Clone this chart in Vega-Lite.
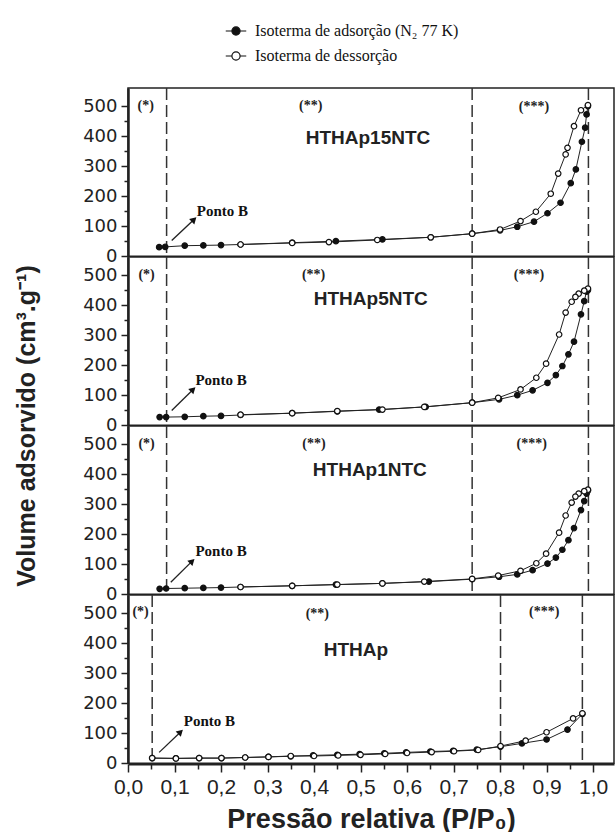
{
  "$schema": "https://vega.github.io/schema/vega-lite/v6.json",
  "padding": {"left": 14, "top": 20, "right": 0, "bottom": 0},
  "background": "white",
  "bounds": "flush",
  "data": {"values": [
    {"painel":"HTHAp15NTC","camada":"curva","isoterma":"adsorção","p":0.067,"v":30},
    {"painel":"HTHAp15NTC","camada":"curva","isoterma":"adsorção","p":0.08,"v":31},
    {"painel":"HTHAp15NTC","camada":"curva","isoterma":"adsorção","p":0.122,"v":35},
    {"painel":"HTHAp15NTC","camada":"curva","isoterma":"adsorção","p":0.162,"v":36},
    {"painel":"HTHAp15NTC","camada":"curva","isoterma":"adsorção","p":0.2,"v":37},
    {"painel":"HTHAp15NTC","camada":"curva","isoterma":"adsorção","p":0.242,"v":39},
    {"painel":"HTHAp15NTC","camada":"curva","isoterma":"adsorção","p":0.353,"v":45},
    {"painel":"HTHAp15NTC","camada":"curva","isoterma":"adsorção","p":0.447,"v":50},
    {"painel":"HTHAp15NTC","camada":"curva","isoterma":"adsorção","p":0.547,"v":56},
    {"painel":"HTHAp15NTC","camada":"curva","isoterma":"adsorção","p":0.651,"v":63},
    {"painel":"HTHAp15NTC","camada":"curva","isoterma":"adsorção","p":0.74,"v":75},
    {"painel":"HTHAp15NTC","camada":"curva","isoterma":"adsorção","p":0.8,"v":86},
    {"painel":"HTHAp15NTC","camada":"curva","isoterma":"adsorção","p":0.837,"v":98},
    {"painel":"HTHAp15NTC","camada":"curva","isoterma":"adsorção","p":0.873,"v":115},
    {"painel":"HTHAp15NTC","camada":"curva","isoterma":"adsorção","p":0.902,"v":143},
    {"painel":"HTHAp15NTC","camada":"curva","isoterma":"adsorção","p":0.93,"v":178},
    {"painel":"HTHAp15NTC","camada":"curva","isoterma":"adsorção","p":0.952,"v":243},
    {"painel":"HTHAp15NTC","camada":"curva","isoterma":"adsorção","p":0.963,"v":289},
    {"painel":"HTHAp15NTC","camada":"curva","isoterma":"adsorção","p":0.976,"v":381},
    {"painel":"HTHAp15NTC","camada":"curva","isoterma":"adsorção","p":0.983,"v":428},
    {"painel":"HTHAp15NTC","camada":"curva","isoterma":"adsorção","p":0.986,"v":472},
    {"painel":"HTHAp15NTC","camada":"curva","isoterma":"adsorção","p":0.989,"v":500},
    {"painel":"HTHAp15NTC","camada":"curva","isoterma":"dessorção","p":0.989,"v":503},
    {"painel":"HTHAp15NTC","camada":"curva","isoterma":"dessorção","p":0.974,"v":486},
    {"painel":"HTHAp15NTC","camada":"curva","isoterma":"dessorção","p":0.959,"v":433},
    {"painel":"HTHAp15NTC","camada":"curva","isoterma":"dessorção","p":0.945,"v":361},
    {"painel":"HTHAp15NTC","camada":"curva","isoterma":"dessorção","p":0.941,"v":339},
    {"painel":"HTHAp15NTC","camada":"curva","isoterma":"dessorção","p":0.925,"v":275},
    {"painel":"HTHAp15NTC","camada":"curva","isoterma":"dessorção","p":0.909,"v":208},
    {"painel":"HTHAp15NTC","camada":"curva","isoterma":"dessorção","p":0.877,"v":148},
    {"painel":"HTHAp15NTC","camada":"curva","isoterma":"dessorção","p":0.844,"v":117},
    {"painel":"HTHAp15NTC","camada":"curva","isoterma":"dessorção","p":0.8,"v":89},
    {"painel":"HTHAp15NTC","camada":"curva","isoterma":"dessorção","p":0.74,"v":75},
    {"painel":"HTHAp15NTC","camada":"curva","isoterma":"dessorção","p":0.651,"v":63},
    {"painel":"HTHAp15NTC","camada":"curva","isoterma":"dessorção","p":0.536,"v":54},
    {"painel":"HTHAp15NTC","camada":"curva","isoterma":"dessorção","p":0.432,"v":47},
    {"painel":"HTHAp15NTC","camada":"curva","isoterma":"dessorção","p":0.353,"v":44},
    {"painel":"HTHAp15NTC","camada":"curva","isoterma":"dessorção","p":0.242,"v":39},

    {"painel":"HTHAp5NTC","camada":"curva","isoterma":"adsorção","p":0.068,"v":27},
    {"painel":"HTHAp5NTC","camada":"curva","isoterma":"adsorção","p":0.082,"v":27},
    {"painel":"HTHAp5NTC","camada":"curva","isoterma":"adsorção","p":0.122,"v":28},
    {"painel":"HTHAp5NTC","camada":"curva","isoterma":"adsorção","p":0.162,"v":30},
    {"painel":"HTHAp5NTC","camada":"curva","isoterma":"adsorção","p":0.2,"v":31},
    {"painel":"HTHAp5NTC","camada":"curva","isoterma":"adsorção","p":0.242,"v":34},
    {"painel":"HTHAp5NTC","camada":"curva","isoterma":"adsorção","p":0.353,"v":40},
    {"painel":"HTHAp5NTC","camada":"curva","isoterma":"adsorção","p":0.45,"v":46},
    {"painel":"HTHAp5NTC","camada":"curva","isoterma":"adsorção","p":0.54,"v":52},
    {"painel":"HTHAp5NTC","camada":"curva","isoterma":"adsorção","p":0.64,"v":61},
    {"painel":"HTHAp5NTC","camada":"curva","isoterma":"adsorção","p":0.74,"v":75},
    {"painel":"HTHAp5NTC","camada":"curva","isoterma":"adsorção","p":0.798,"v":86},
    {"painel":"HTHAp5NTC","camada":"curva","isoterma":"adsorção","p":0.837,"v":100},
    {"painel":"HTHAp5NTC","camada":"curva","isoterma":"adsorção","p":0.87,"v":116},
    {"painel":"HTHAp5NTC","camada":"curva","isoterma":"adsorção","p":0.902,"v":141},
    {"painel":"HTHAp5NTC","camada":"curva","isoterma":"adsorção","p":0.92,"v":167},
    {"painel":"HTHAp5NTC","camada":"curva","isoterma":"adsorção","p":0.934,"v":197},
    {"painel":"HTHAp5NTC","camada":"curva","isoterma":"adsorção","p":0.947,"v":236},
    {"painel":"HTHAp5NTC","camada":"curva","isoterma":"adsorção","p":0.959,"v":278},
    {"painel":"HTHAp5NTC","camada":"curva","isoterma":"adsorção","p":0.974,"v":369},
    {"painel":"HTHAp5NTC","camada":"curva","isoterma":"adsorção","p":0.981,"v":413},
    {"painel":"HTHAp5NTC","camada":"curva","isoterma":"adsorção","p":0.986,"v":445},
    {"painel":"HTHAp5NTC","camada":"curva","isoterma":"adsorção","p":0.989,"v":450},
    {"painel":"HTHAp5NTC","camada":"curva","isoterma":"dessorção","p":0.989,"v":455},
    {"painel":"HTHAp5NTC","camada":"curva","isoterma":"dessorção","p":0.981,"v":448},
    {"painel":"HTHAp5NTC","camada":"curva","isoterma":"dessorção","p":0.969,"v":438},
    {"painel":"HTHAp5NTC","camada":"curva","isoterma":"dessorção","p":0.962,"v":427},
    {"painel":"HTHAp5NTC","camada":"curva","isoterma":"dessorção","p":0.954,"v":411},
    {"painel":"HTHAp5NTC","camada":"curva","isoterma":"dessorção","p":0.941,"v":375},
    {"painel":"HTHAp5NTC","camada":"curva","isoterma":"dessorção","p":0.927,"v":302},
    {"painel":"HTHAp5NTC","camada":"curva","isoterma":"dessorção","p":0.899,"v":205},
    {"painel":"HTHAp5NTC","camada":"curva","isoterma":"dessorção","p":0.878,"v":158},
    {"painel":"HTHAp5NTC","camada":"curva","isoterma":"dessorção","p":0.844,"v":119},
    {"painel":"HTHAp5NTC","camada":"curva","isoterma":"dessorção","p":0.796,"v":91},
    {"painel":"HTHAp5NTC","camada":"curva","isoterma":"dessorção","p":0.74,"v":75},
    {"painel":"HTHAp5NTC","camada":"curva","isoterma":"dessorção","p":0.637,"v":61},
    {"painel":"HTHAp5NTC","camada":"curva","isoterma":"dessorção","p":0.547,"v":52},
    {"painel":"HTHAp5NTC","camada":"curva","isoterma":"dessorção","p":0.45,"v":47},
    {"painel":"HTHAp5NTC","camada":"curva","isoterma":"dessorção","p":0.353,"v":40},
    {"painel":"HTHAp5NTC","camada":"curva","isoterma":"dessorção","p":0.242,"v":35},

    {"painel":"HTHAp1NTC","camada":"curva","isoterma":"adsorção","p":0.068,"v":18},
    {"painel":"HTHAp1NTC","camada":"curva","isoterma":"adsorção","p":0.082,"v":19},
    {"painel":"HTHAp1NTC","camada":"curva","isoterma":"adsorção","p":0.122,"v":20},
    {"painel":"HTHAp1NTC","camada":"curva","isoterma":"adsorção","p":0.162,"v":21},
    {"painel":"HTHAp1NTC","camada":"curva","isoterma":"adsorção","p":0.2,"v":22},
    {"painel":"HTHAp1NTC","camada":"curva","isoterma":"adsorção","p":0.242,"v":24},
    {"painel":"HTHAp1NTC","camada":"curva","isoterma":"adsorção","p":0.353,"v":28},
    {"painel":"HTHAp1NTC","camada":"curva","isoterma":"adsorção","p":0.447,"v":32},
    {"painel":"HTHAp1NTC","camada":"curva","isoterma":"adsorção","p":0.547,"v":36},
    {"painel":"HTHAp1NTC","camada":"curva","isoterma":"adsorção","p":0.647,"v":42},
    {"painel":"HTHAp1NTC","camada":"curva","isoterma":"adsorção","p":0.74,"v":50},
    {"painel":"HTHAp1NTC","camada":"curva","isoterma":"adsorção","p":0.798,"v":58},
    {"painel":"HTHAp1NTC","camada":"curva","isoterma":"adsorção","p":0.837,"v":66},
    {"painel":"HTHAp1NTC","camada":"curva","isoterma":"adsorção","p":0.87,"v":80},
    {"painel":"HTHAp1NTC","camada":"curva","isoterma":"adsorção","p":0.902,"v":102},
    {"painel":"HTHAp1NTC","camada":"curva","isoterma":"adsorção","p":0.92,"v":122},
    {"painel":"HTHAp1NTC","camada":"curva","isoterma":"adsorção","p":0.934,"v":148},
    {"painel":"HTHAp1NTC","camada":"curva","isoterma":"adsorção","p":0.947,"v":180},
    {"painel":"HTHAp1NTC","camada":"curva","isoterma":"adsorção","p":0.959,"v":220},
    {"painel":"HTHAp1NTC","camada":"curva","isoterma":"adsorção","p":0.974,"v":280},
    {"painel":"HTHAp1NTC","camada":"curva","isoterma":"adsorção","p":0.981,"v":310},
    {"painel":"HTHAp1NTC","camada":"curva","isoterma":"adsorção","p":0.986,"v":335},
    {"painel":"HTHAp1NTC","camada":"curva","isoterma":"adsorção","p":0.989,"v":345},
    {"painel":"HTHAp1NTC","camada":"curva","isoterma":"dessorção","p":0.989,"v":348},
    {"painel":"HTHAp1NTC","camada":"curva","isoterma":"dessorção","p":0.981,"v":343},
    {"painel":"HTHAp1NTC","camada":"curva","isoterma":"dessorção","p":0.969,"v":335},
    {"painel":"HTHAp1NTC","camada":"curva","isoterma":"dessorção","p":0.962,"v":325},
    {"painel":"HTHAp1NTC","camada":"curva","isoterma":"dessorção","p":0.954,"v":305},
    {"painel":"HTHAp1NTC","camada":"curva","isoterma":"dessorção","p":0.941,"v":262},
    {"painel":"HTHAp1NTC","camada":"curva","isoterma":"dessorção","p":0.927,"v":205},
    {"painel":"HTHAp1NTC","camada":"curva","isoterma":"dessorção","p":0.899,"v":135},
    {"painel":"HTHAp1NTC","camada":"curva","isoterma":"dessorção","p":0.878,"v":103},
    {"painel":"HTHAp1NTC","camada":"curva","isoterma":"dessorção","p":0.844,"v":78},
    {"painel":"HTHAp1NTC","camada":"curva","isoterma":"dessorção","p":0.796,"v":62},
    {"painel":"HTHAp1NTC","camada":"curva","isoterma":"dessorção","p":0.74,"v":51},
    {"painel":"HTHAp1NTC","camada":"curva","isoterma":"dessorção","p":0.637,"v":42},
    {"painel":"HTHAp1NTC","camada":"curva","isoterma":"dessorção","p":0.547,"v":36},
    {"painel":"HTHAp1NTC","camada":"curva","isoterma":"dessorção","p":0.45,"v":32},
    {"painel":"HTHAp1NTC","camada":"curva","isoterma":"dessorção","p":0.353,"v":28},
    {"painel":"HTHAp1NTC","camada":"curva","isoterma":"dessorção","p":0.242,"v":24},

    {"painel":"HTHAp","camada":"curva","isoterma":"adsorção","p":0.052,"v":17},
    {"painel":"HTHAp","camada":"curva","isoterma":"adsorção","p":0.103,"v":16},
    {"painel":"HTHAp","camada":"curva","isoterma":"adsorção","p":0.153,"v":17},
    {"painel":"HTHAp","camada":"curva","isoterma":"adsorção","p":0.201,"v":17},
    {"painel":"HTHAp","camada":"curva","isoterma":"adsorção","p":0.252,"v":19},
    {"painel":"HTHAp","camada":"curva","isoterma":"adsorção","p":0.302,"v":21},
    {"painel":"HTHAp","camada":"curva","isoterma":"adsorção","p":0.35,"v":23},
    {"painel":"HTHAp","camada":"curva","isoterma":"adsorção","p":0.398,"v":26},
    {"painel":"HTHAp","camada":"curva","isoterma":"adsorção","p":0.45,"v":28},
    {"painel":"HTHAp","camada":"curva","isoterma":"adsorção","p":0.498,"v":30},
    {"painel":"HTHAp","camada":"curva","isoterma":"adsorção","p":0.551,"v":33},
    {"painel":"HTHAp","camada":"curva","isoterma":"adsorção","p":0.598,"v":36},
    {"painel":"HTHAp","camada":"curva","isoterma":"adsorção","p":0.65,"v":39},
    {"painel":"HTHAp","camada":"curva","isoterma":"adsorção","p":0.699,"v":41},
    {"painel":"HTHAp","camada":"curva","isoterma":"adsorção","p":0.75,"v":45},
    {"painel":"HTHAp","camada":"curva","isoterma":"adsorção","p":0.801,"v":55},
    {"painel":"HTHAp","camada":"curva","isoterma":"adsorção","p":0.847,"v":66},
    {"painel":"HTHAp","camada":"curva","isoterma":"adsorção","p":0.9,"v":79},
    {"painel":"HTHAp","camada":"curva","isoterma":"adsorção","p":0.945,"v":112},
    {"painel":"HTHAp","camada":"curva","isoterma":"adsorção","p":0.977,"v":164},
    {"painel":"HTHAp","camada":"curva","isoterma":"dessorção","p":0.977,"v":166},
    {"painel":"HTHAp","camada":"curva","isoterma":"dessorção","p":0.957,"v":149},
    {"painel":"HTHAp","camada":"curva","isoterma":"dessorção","p":0.9,"v":103},
    {"painel":"HTHAp","camada":"curva","isoterma":"dessorção","p":0.855,"v":75},
    {"painel":"HTHAp","camada":"curva","isoterma":"dessorção","p":0.801,"v":57},
    {"painel":"HTHAp","camada":"curva","isoterma":"dessorção","p":0.753,"v":44},
    {"painel":"HTHAp","camada":"curva","isoterma":"dessorção","p":0.701,"v":40},
    {"painel":"HTHAp","camada":"curva","isoterma":"dessorção","p":0.653,"v":37},
    {"painel":"HTHAp","camada":"curva","isoterma":"dessorção","p":0.6,"v":34},
    {"painel":"HTHAp","camada":"curva","isoterma":"dessorção","p":0.553,"v":31},
    {"painel":"HTHAp","camada":"curva","isoterma":"dessorção","p":0.5,"v":28},
    {"painel":"HTHAp","camada":"curva","isoterma":"dessorção","p":0.452,"v":26},
    {"painel":"HTHAp","camada":"curva","isoterma":"dessorção","p":0.4,"v":24},
    {"painel":"HTHAp","camada":"curva","isoterma":"dessorção","p":0.35,"v":24},
    {"painel":"HTHAp","camada":"curva","isoterma":"dessorção","p":0.302,"v":21},
    {"painel":"HTHAp","camada":"curva","isoterma":"dessorção","p":0.252,"v":19},
    {"painel":"HTHAp","camada":"curva","isoterma":"dessorção","p":0.201,"v":17},
    {"painel":"HTHAp","camada":"curva","isoterma":"dessorção","p":0.153,"v":17},
    {"painel":"HTHAp","camada":"curva","isoterma":"dessorção","p":0.103,"v":16},
    {"painel":"HTHAp","camada":"curva","isoterma":"dessorção","p":0.052,"v":17},

    {"painel":"HTHAp15NTC","camada":"divisa","p":0.083},
    {"painel":"HTHAp15NTC","camada":"divisa","p":0.74},
    {"painel":"HTHAp15NTC","camada":"divisa","p":0.99},
    {"painel":"HTHAp5NTC","camada":"divisa","p":0.083},
    {"painel":"HTHAp5NTC","camada":"divisa","p":0.74},
    {"painel":"HTHAp5NTC","camada":"divisa","p":0.99},
    {"painel":"HTHAp1NTC","camada":"divisa","p":0.083},
    {"painel":"HTHAp1NTC","camada":"divisa","p":0.74},
    {"painel":"HTHAp1NTC","camada":"divisa","p":0.99},
    {"painel":"HTHAp","camada":"divisa","p":0.052},
    {"painel":"HTHAp","camada":"divisa","p":0.801},
    {"painel":"HTHAp","camada":"divisa","p":0.977},

    {"painel":"HTHAp15NTC","camada":"seta","p":0.142,"v":122,"p2":0.094,"v2":52},
    {"painel":"HTHAp5NTC","camada":"seta","p":0.14,"v":119,"p2":0.094,"v2":49},
    {"painel":"HTHAp1NTC","camada":"seta","p":0.138,"v":110,"p2":0.092,"v2":40},
    {"painel":"HTHAp","camada":"seta","p":0.113,"v":104,"p2":0.067,"v2":36},

    {"painel":"HTHAp15NTC","camada":"pontoB","p":0.203,"v":152,"texto":"Ponto B"},
    {"painel":"HTHAp5NTC","camada":"pontoB","p":0.2,"v":149,"texto":"Ponto B"},
    {"painel":"HTHAp1NTC","camada":"pontoB","p":0.2,"v":143,"texto":"Ponto B"},
    {"painel":"HTHAp","camada":"pontoB","p":0.175,"v":141,"texto":"Ponto B"},

    {"painel":"HTHAp15NTC","camada":"nome","p":0.516,"v":395,"texto":"HTHAp15NTC"},
    {"painel":"HTHAp5NTC","camada":"nome","p":0.522,"v":421,"texto":"HTHAp5NTC"},
    {"painel":"HTHAp1NTC","camada":"nome","p":0.52,"v":412,"texto":"HTHAp1NTC"},
    {"painel":"HTHAp","camada":"nome","p":0.49,"v":377,"texto":"HTHAp"},

    {"painel":"HTHAp15NTC","camada":"nota","p":0.038,"v":500,"texto":"(*)"},
    {"painel":"HTHAp15NTC","camada":"nota","p":0.393,"v":500,"texto":"(**)"},
    {"painel":"HTHAp15NTC","camada":"nota","p":0.873,"v":497,"texto":"(***)"},
    {"painel":"HTHAp5NTC","camada":"nota","p":0.04,"v":500,"texto":"(*)"},
    {"painel":"HTHAp5NTC","camada":"nota","p":0.399,"v":500,"texto":"(**)"},
    {"painel":"HTHAp5NTC","camada":"nota","p":0.862,"v":500,"texto":"(***)"},
    {"painel":"HTHAp1NTC","camada":"nota","p":0.04,"v":500,"texto":"(*)"},
    {"painel":"HTHAp1NTC","camada":"nota","p":0.4,"v":500,"texto":"(**)"},
    {"painel":"HTHAp1NTC","camada":"nota","p":0.868,"v":500,"texto":"(***)"},
    {"painel":"HTHAp","camada":"nota","p":0.027,"v":503,"texto":"(*)"},
    {"painel":"HTHAp","camada":"nota","p":0.407,"v":497,"texto":"(**)"},
    {"painel":"HTHAp","camada":"nota","p":0.895,"v":503,"texto":"(***)"}
  ]},
  "facet": {"row": {"field": "painel", "type": "nominal", "title": "Volume adsorvido (cm³.g⁻¹)", "sort": ["HTHAp15NTC","HTHAp5NTC","HTHAp1NTC","HTHAp"],
    "header": {"labels": false, "titleFont": "Liberation Sans", "titleFontSize": 25, "titleFontWeight": "bold", "titleColor": "#222", "titlePadding": 32}}},
  "spacing": {"row": 0},
  "spec": {
    "width": 486,
    "height": 168.2,
    "encoding": {
      "x": {"field": "p", "type": "quantitative", "scale": {"domain": [0, 1.045], "nice": false},
        "axis": {"title": "Pressão relativa (P/P₀)", "values": [0,0.05,0.1,0.15,0.2,0.25,0.3,0.35,0.4,0.45,0.5,0.55,0.6,0.65,0.7,0.75,0.8,0.85,0.9,0.95,1.0],
          "labelExpr": "round(datum.value*100) % 10 === 0 ? replace(format(datum.value, '.1f'), '.', ',') : ''",
          "tickSize": {"condition": {"test": "round(datum.value*100) % 10 === 0", "value": 8}, "value": 5}}},
      "y": {"field": "v", "type": "quantitative", "scale": {"domain": [0, 560], "nice": false},
        "axis": {"title": null, "values": [0,50,100,150,200,250,300,350,400,450,500], "tickCount": 11,
          "labelExpr": "round(datum.value) % 100 === 0 ? format(datum.value, 'd') : ''",
          "tickSize": {"condition": {"test": "round(datum.value) % 100 === 0", "value": 7}, "value": 4}}}
    },
    "layer": [
      {
        "transform": [{"filter": "datum.camada === 'divisa'"}],
        "mark": {"type": "rule", "color": "#333", "strokeWidth": 1.5, "strokeDash": [12, 5]},
        "encoding": {"y": {"value": 0}, "y2": {"value": "height"}}
      },
      {
        "transform": [{"filter": "datum.camada === 'curva'"}],
        "mark": {"type": "line", "color": "#222", "strokeWidth": 1},
        "encoding": {"detail": {"field": "isoterma"}}
      },
      {
        "transform": [{"filter": "datum.camada === 'curva'"}],
        "mark": {"type": "point", "shape": "circle", "filled": true, "stroke": "#111", "strokeWidth": 1.2, "size": 30, "opacity": 1},
        "encoding": {
          "fill": {"field": "isoterma", "type": "nominal",
            "scale": {"domain": ["adsorção", "dessorção"], "range": ["#111", "white"]},
            "legend": {"title": null, "orient": "none", "legendX": 97, "legendY": -68,
              "symbolType": "M-1,0H-0.4M0.4,0H1M0.4,0A0.4,0.4 0 1 1 -0.4,0A0.4,0.4 0 1 1 0.4,0Z",
              "symbolSize": 420, "symbolStrokeColor": "#111", "symbolStrokeWidth": 1.2,
              "labelFont": "Liberation Serif", "labelFontSize": 16, "labelColor": "#111", "rowPadding": 6, "labelOffset": 8, "labelLimit": 400,
              "labelExpr": "datum.label === 'adsorção' ? 'Isoterma de adsorção (N₂ 77 K)' : 'Isoterma de dessorção'"}}
        }
      },
      {
        "transform": [{"filter": "datum.camada === 'seta'"}],
        "mark": {"type": "rule", "color": "#222", "strokeWidth": 1.3},
        "encoding": {"x2": {"field": "p2"}, "y2": {"field": "v2"}}
      },
      {
        "transform": [{"filter": "datum.camada === 'seta'"}],
        "mark": {"type": "point", "shape": "triangle-up", "filled": true, "color": "#111", "size": 55, "angle": 46, "opacity": 1}
      },
      {
        "transform": [{"filter": "datum.camada === 'pontoB'"}],
        "mark": {"type": "text", "font": "Liberation Serif", "fontWeight": "bold", "fontSize": 15, "color": "#111", "align": "center", "baseline": "middle"},
        "encoding": {"text": {"field": "texto"}}
      },
      {
        "transform": [{"filter": "datum.camada === 'nome'"}],
        "mark": {"type": "text", "font": "Liberation Sans", "fontWeight": "bold", "fontSize": 19, "color": "#222", "align": "center", "baseline": "middle"},
        "encoding": {"text": {"field": "texto"}}
      },
      {
        "transform": [{"filter": "datum.camada === 'nota'"}],
        "mark": {"type": "text", "font": "Liberation Serif", "fontWeight": "bold", "fontSize": 14, "color": "#222", "align": "center", "baseline": "middle"},
        "encoding": {"text": {"field": "texto"}}
      }
    ]
  },
  "config": {
    "view": {"stroke": "#222", "strokeWidth": 1.5},
    "axis": {"labelOverlap": false, "labelBound": false, "labelFlush": false, "grid": false,
      "domainColor": "#222", "tickColor": "#222", "tickWidth": 1.5, "labelColor": "#222", "titleColor": "#222"},
    "axisX": {"labelFont": "Liberation Sans", "labelFontSize": 21, "labelPadding": 4,
      "titleFont": "Liberation Sans", "titleFontSize": 27, "titleFontWeight": "bold", "titlePadding": 9, "domainWidth": 2},
    "axisY": {"labelFont": "DejaVu Sans", "labelFontSize": 18, "labelPadding": 4, "domainWidth": 2.5}
  }
}
